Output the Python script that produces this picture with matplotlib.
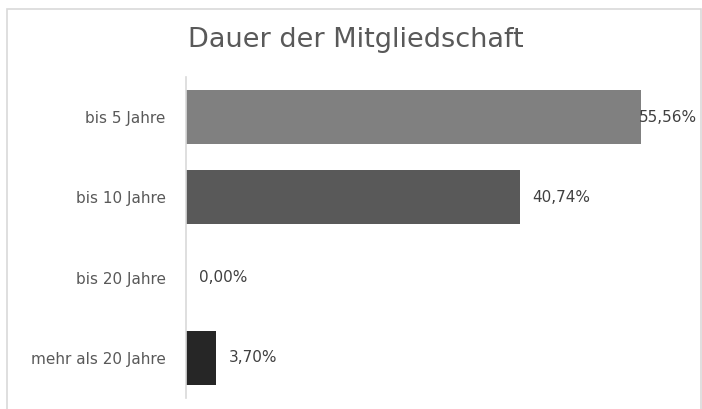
import matplotlib.pyplot as plt
from matplotlib.patches import Rectangle

# Daten
kategorien = ["bis 5 Jahre", "bis 10 Jahre", "bis 20 Jahre", "mehr als 20 Jahre"]
anteile = [55.56, 40.74, 0.00, 3.70]
farben = ["#808080", "#595959", "#404040", "#262626"]

fig = plt.figure(figsize=(7.02, 4.09), dpi=100)
W, H = 702, 409

# Rahmen um das Diagramm
fig.patches.append(Rectangle((7 / W, -0.1), (701 - 7) / W, (H - 9) / H + 0.1,
                             transform=fig.transFigure, fill=False,
                             edgecolor="#d9d9d9", lw=1.2, zorder=0))

ax = fig.add_axes([186 / W, 11 / H, (697 - 186) / W, (398 - 77) / H])

pos = list(range(len(kategorien)))
ax.barh(pos, anteile, height=0.675, color=farben)

ax.set_xlim(0, 62.4)
ax.set_ylim(len(kategorien) - 0.5, -0.5)

ax.set_yticks(pos)
ax.set_yticklabels(kategorien, fontsize=11, color="#595959")
ax.tick_params(axis="y", length=0, pad=14.5)
ax.set_xticks([])

for s in ["top", "right", "bottom"]:
    ax.spines[s].set_visible(False)
ax.spines["left"].set_color("#d9d9d9")
ax.spines["left"].set_linewidth(1.2)

# Beschriftungen der Balken
xmax = ax.get_xlim()[1]
for i, v in enumerate(anteile):
    txt = f"{v:.2f}%".replace(".", ",")
    if v > 52:
        ax.text(xmax, i, txt, ha="right", va="center", fontsize=11, color="#404040")
    else:
        ax.annotate(txt, (v, i), xytext=(9, 0), textcoords="offset points",
                    ha="left", va="center", fontsize=11, color="#404040")

fig.text(356 / W, 1 - 40 / H, "Dauer der Mitgliedschaft", ha="center", va="center",
         fontsize=19.5, color="#595959")

fig.savefig("out.png", dpi=100)
